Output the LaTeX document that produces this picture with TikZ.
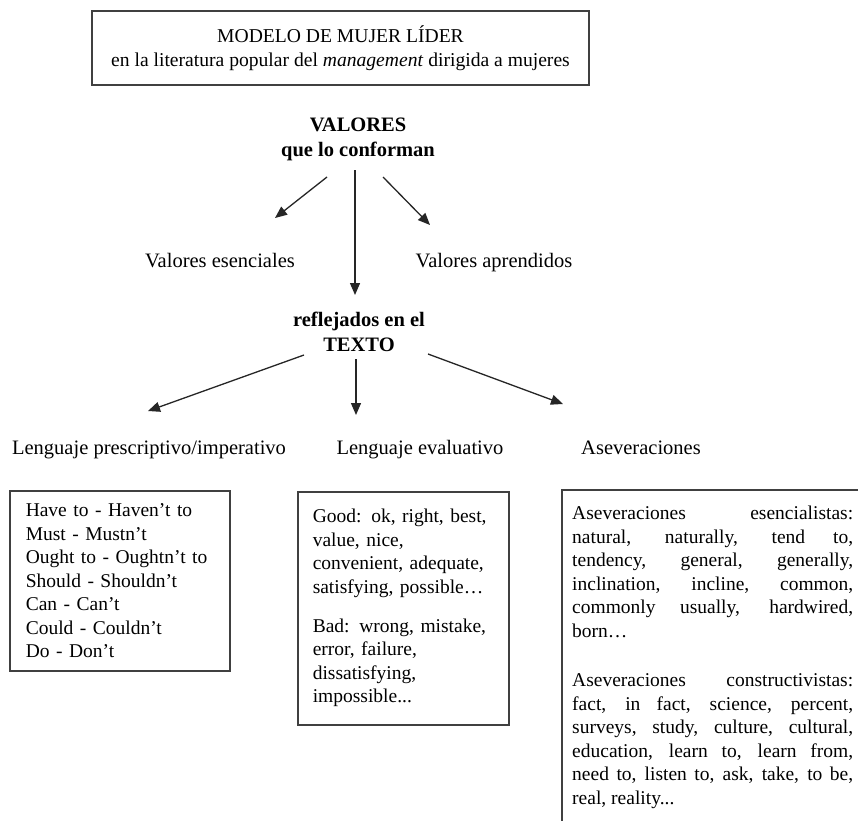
\documentclass[tikz,border=0pt]{standalone}
\usepackage{fontspec}
\setmainfont{Liberation Serif}
\usetikzlibrary{arrows.meta}

\begin{document}
\begin{tikzpicture}[x=1pt, y=-1pt,
    lbl/.style={font=\fontsize{20.5}{24}\selectfont, text height=14pt, text depth=4pt},
    head/.style={font=\fontsize{20.5}{25}\selectfont\bfseries, align=center},
    frame/.style={draw=black!75, line width=1.5pt},
    wordbox/.style={frame, inner sep=0pt, anchor=north west,
      font=\fontsize{19.5}{23.5}\selectfont},
    arr/.style={-{Triangle[length=12pt,width=10pt]}, line width=1.3pt, draw=black!85}]
  \useasboundingbox (0,0) rectangle (858,820);
  \clip (0,0) rectangle (858,820);
  \fill[white] (0,0) rectangle (858,820);
  % title
  \node[frame, minimum width=497pt, minimum height=74pt, align=center,
    font=\fontsize{19.6}{24}\selectfont] (title) at (340.5,48)
    {MODELO DE MUJER LÍDER\\en la literatura popular del \emph{management} dirigida a mujeres};
  % values
  \node[head] (vals) at (358,139) {VALORES\\que lo conforman};
  \node[lbl] (esen) at (220,262) {Valores esenciales};
  \node[lbl] (apre) at (494,262) {Valores aprendidos};
  \node[head] (texto) at (359,332) {reflejados en el\\TEXTO};
  \draw[arr] ([xshift=-31pt,yshift=-38pt]vals.center) -- ([xshift=55pt,yshift=44pt]esen.center);
  \draw[arr] ([xshift=-3pt,yshift=-31pt]vals.center) -- ([xshift=-4pt,yshift=37pt]texto.center);
  \draw[arr] ([xshift=25pt,yshift=-38pt]vals.center) -- ([xshift=-64pt,yshift=37pt]apre.center);
  % kinds of language
  \node[lbl] (presc) at (149,449) {Lenguaje prescriptivo/imperativo};
  \node[lbl] (eval) at (420,449) {Lenguaje evaluativo};
  \node[lbl] (asev) at (641,449) {Aseveraciones};
  \draw[arr] ([xshift=-55pt,yshift=-23pt]texto.center) -- ([xshift=-1pt,yshift=38pt]presc.center);
  \draw[arr] ([xshift=-3pt,yshift=-27pt]texto.center) -- ([xshift=-64pt,yshift=34pt]eval.center);
  \draw[arr] ([xshift=69pt,yshift=-22pt]texto.center) -- ([xshift=-78pt,yshift=45pt]asev.center);
  % word lists
  \node[wordbox, minimum width=220pt, minimum height=180pt, text width=188pt, align=left]
    (modal) at (9,490)
    {Have to - Haven't to\\Must - Mustn't\\Ought to - Oughtn't to\\Should - Shouldn't\\
     Can - Can't\\Could - Couldn't\\Do - Don't};
  \node[wordbox, minimum width=211pt, minimum height=233pt, text width=181pt, align=left]
    (judge) at (297,491)
    {Good: ok, right, best,\\value, nice,\\convenient, adequate,\\satisfying, possible…\\[15.5pt]
     Bad: wrong, mistake,\\error, failure,\\dissatisfying,\\impossible...};
  \node[inner sep=0pt, anchor=north west, text width=281pt, align=justify,
    font=\fontsize{19.5}{23.5}\selectfont] (claims) at (572,506)
    {Aseveraciones esencialistas:\linebreak
     natural, naturally, tend to,\linebreak
     tendency, general, generally,\linebreak
     inclination, incline, common,\linebreak
     commonly usually, hardwired,\linebreak
     born…\\[26pt]
     Aseveraciones constructivistas:\linebreak
     fact, in fact, science, percent,\linebreak
     surveys, study, culture, cultural,\linebreak
     education, learn to, learn from,\linebreak
     need to, listen to, ask, take, to be,\linebreak
     real, reality...};
  % only the top and left sides lie in the picture
  \draw[frame] ([xshift=310pt,yshift=16pt]claims.north west) -| ([xshift=-10pt,yshift=-340pt]claims.north west);
\end{tikzpicture}
\end{document}
